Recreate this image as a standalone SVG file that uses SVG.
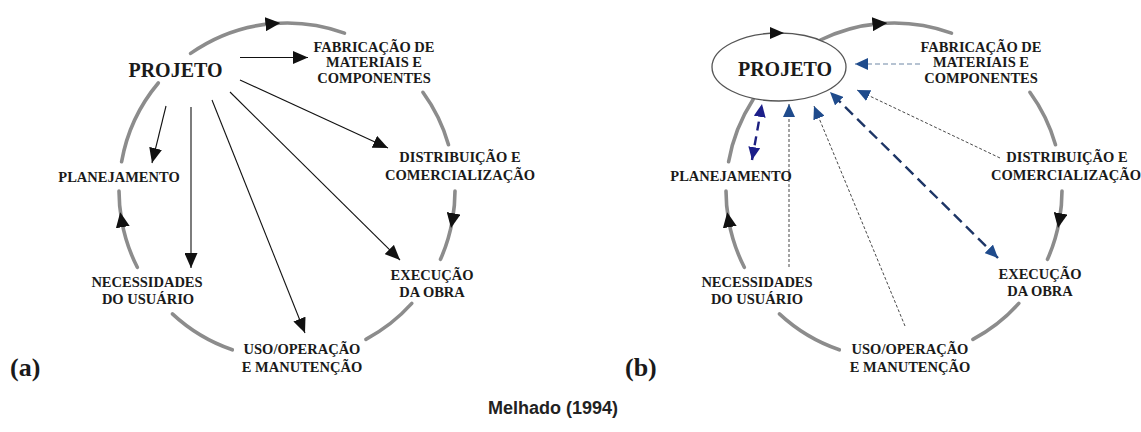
<svg xmlns="http://www.w3.org/2000/svg" width="1141" height="432" viewBox="0 0 1141 432">
  <style>
    .lbl { font-family: "Liberation Serif", "Times New Roman", serif; font-weight: bold; font-size: 14.5px; fill: #1a1a1a; text-anchor: middle; }
    .big { font-family: "Liberation Serif", "Times New Roman", serif; font-weight: bold; font-size: 20px; fill: #1a1a1a; text-anchor: middle; }
    .tag { font-family: "Liberation Serif", "Times New Roman", serif; font-weight: bold; font-size: 26px; fill: #1a1a1a; }
    .cite { font-family: "Liberation Sans", Arial, sans-serif; font-weight: bold; font-size: 18px; fill: #222; text-anchor: middle; }
    .cycle { fill: none; stroke: #8c8c8c; stroke-width: 3.6; stroke-linecap: round; }
    .flow { fill: none; stroke: #111; stroke-width: 1.1; }
    .thin { fill: none; stroke: #333; stroke-width: 0.9; stroke-dasharray: 3 2; }
    .pale { fill: none; stroke: #9fb0c4; stroke-width: 1.6; stroke-dasharray: 5 3; }
    .navy { fill: none; stroke: #1d3566; stroke-width: 2.4; stroke-dasharray: 11 6; }
    .indigo { fill: none; stroke: #1c1f80; stroke-width: 2.4; stroke-dasharray: 9 6; }
  </style>
  <defs>
    <marker id="cycleHead" markerUnits="userSpaceOnUse" markerWidth="15" markerHeight="14" refX="7" refY="7" orient="auto">
      <path d="M0,0 L15,7 L0,14 z" fill="#111"/>
    </marker>
    <marker id="blackHead" markerUnits="userSpaceOnUse" markerWidth="15" markerHeight="13" refX="15" refY="6.5" orient="auto">
      <path d="M0,0 L15,6.5 L0,13 z" fill="#111"/>
    </marker>
    <marker id="blueHead" markerUnits="userSpaceOnUse" markerWidth="13" markerHeight="12" refX="13" refY="6" orient="auto-start-reverse">
      <path d="M0,0 L13,6 L0,12 z" fill="#1f4b8c"/>
    </marker>
    <marker id="indigoHead" markerUnits="userSpaceOnUse" markerWidth="13" markerHeight="12" refX="13" refY="6" orient="auto-start-reverse">
      <path d="M0,0 L13,6 L0,12 z" fill="#1c1f8a"/>
    </marker>
  </defs>

  <!-- ===== (a) cycle ring, clockwise; arrow-bearing pieces drawn last ===== -->
  <g id="ring-a">
    <path class="cycle" d="M272.4,23.6 A168,168 0 0 1 344.5,33.1"/>
    <path class="cycle" d="M190.6,53.4 A168,168 0 0 1 272.4,23.6" marker-end="url(#cycleHead)"/>
    <path class="cycle" d="M422.9,92.3 A168,168 0 0 1 448.5,144.7"/>
    <path class="cycle" d="M452.4,220.2 A168,168 0 0 1 440.5,259.3"/>
    <path class="cycle" d="M455,191 A168,168 0 0 1 452.4,220.2" marker-end="url(#cycleHead)"/>
    <path class="cycle" d="M411.8,303.4 A168,168 0 0 1 365.9,339.3"/>
    <path class="cycle" d="M232.3,349.8 A168,168 0 0 1 172.4,313.9"/>
    <path class="cycle" d="M121.6,220.2 A168,168 0 0 1 119,191"/>
    <path class="cycle" d="M137.3,267.3 A168,168 0 0 1 121.6,220.2" marker-end="url(#cycleHead)"/>
    <path class="cycle" d="M121.6,161.8 A168,168 0 0 1 158.3,83.0"/>
  </g>

  <!-- (a) arrows from PROJETO to each stage -->
  <g id="connectors-a">
    <line class="flow" x1="240" y1="57.5" x2="308" y2="57.5" stroke-width="1.6" marker-end="url(#blackHead)"/>
    <line class="flow" x1="166" y1="106" x2="152" y2="163" marker-end="url(#blackHead)"/>
    <line class="flow" x1="191" y1="107" x2="191" y2="268" marker-end="url(#blackHead)"/>
    <line class="flow" x1="212" y1="100" x2="305" y2="333" marker-end="url(#blackHead)"/>
    <line class="flow" x1="230" y1="92" x2="400" y2="260" marker-end="url(#blackHead)"/>
    <line class="flow" x1="240" y1="80" x2="388" y2="148" marker-end="url(#blackHead)"/>
  </g>

  <g id="a-projeto"><text class="big" x="175.5" y="77">PROJETO</text></g>
  <g id="a-fabricacao">
    <text class="lbl" x="374" y="52">FABRICAÇÃO DE</text>
    <text class="lbl" x="374" y="67">MATERIAIS E</text>
    <text class="lbl" x="374" y="83">COMPONENTES</text>
  </g>
  <g id="a-distribuicao">
    <text class="lbl" x="460" y="162">DISTRIBUIÇÃO E</text>
    <text class="lbl" x="460" y="180">COMERCIALIZAÇÃO</text>
  </g>
  <g id="a-execucao">
    <text class="lbl" x="432" y="280">EXECUÇÃO</text>
    <text class="lbl" x="432" y="297">DA OBRA</text>
  </g>
  <g id="a-uso">
    <text class="lbl" x="302" y="354">USO/OPERAÇÃO</text>
    <text class="lbl" x="302" y="372">E MANUTENÇÃO</text>
  </g>
  <g id="a-necessidades">
    <text class="lbl" x="147" y="287">NECESSIDADES</text>
    <text class="lbl" x="148" y="304">DO USUÁRIO</text>
  </g>
  <g id="a-planejamento"><text class="lbl" x="119" y="182">PLANEJAMENTO</text></g>
  <g id="a-tag"><text class="tag" x="10" y="376">(a)</text></g>

  <!-- ===== (b) cycle ring, clockwise ===== -->
  <g id="ring-b">
    <path class="cycle" d="M879.4,23.6 A168,168 0 0 1 951.5,33.1"/>
    <path class="cycle" d="M820.4,40.0 A168,168 0 0 1 879.4,23.6" marker-end="url(#cycleHead)"/>
    <path class="cycle" d="M1029.9,92.3 A168,168 0 0 1 1055.5,144.7"/>
    <path class="cycle" d="M1059.4,220.2 A168,168 0 0 1 1047.5,259.3"/>
    <path class="cycle" d="M1062,191 A168,168 0 0 1 1059.4,220.2" marker-end="url(#cycleHead)"/>
    <path class="cycle" d="M1018.8,303.4 A168,168 0 0 1 972.9,339.3"/>
    <path class="cycle" d="M839.3,349.8 A168,168 0 0 1 779.4,313.9"/>
    <path class="cycle" d="M728.6,220.2 A168,168 0 0 1 726,191"/>
    <path class="cycle" d="M744.3,267.3 A168,168 0 0 1 728.6,220.2" marker-end="url(#cycleHead)"/>
    <path class="cycle" d="M728.6,161.8 A168,168 0 0 1 753.1,99.5"/>
  </g>

  <g id="b-projeto">
    <ellipse cx="779" cy="67" rx="67" ry="34" fill="#fff" stroke="#555" stroke-width="1.3"/>
    <path d="M770,27 L784,33 L770,39 z" fill="#111"/>
    <text class="big" x="785" y="76">PROJETO</text>
  </g>

  <!-- (b) feedback from each stage to PROJETO -->
  <g id="connectors-b">
    <line class="pale" x1="920" y1="64" x2="855" y2="64" marker-end="url(#blueHead)"/>
    <line class="thin" x1="1000" y1="158" x2="857" y2="90" marker-end="url(#blueHead)"/>
    <line class="navy" x1="998" y1="258" x2="830" y2="92" marker-start="url(#blueHead)" marker-end="url(#blueHead)"/>
    <line class="thin" x1="905" y1="326" x2="814" y2="106" marker-end="url(#blueHead)"/>
    <line class="thin" x1="789" y1="267" x2="789" y2="104" marker-end="url(#blueHead)"/>
    <line class="indigo" x1="752" y1="160" x2="762" y2="104" marker-start="url(#indigoHead)" marker-end="url(#indigoHead)"/>
  </g>

  <g id="b-fabricacao">
    <text class="lbl" x="981" y="52">FABRICAÇÃO DE</text>
    <text class="lbl" x="981" y="67">MATERIAIS E</text>
    <text class="lbl" x="981" y="83">COMPONENTES</text>
  </g>
  <g id="b-distribuicao">
    <text class="lbl" x="1067" y="162">DISTRIBUIÇÃO E</text>
    <text class="lbl" x="1066" y="180">COMERCIALIZAÇÃO</text>
  </g>
  <g id="b-execucao">
    <text class="lbl" x="1040" y="279">EXECUÇÃO</text>
    <text class="lbl" x="1040" y="296">DA OBRA</text>
  </g>
  <g id="b-uso">
    <text class="lbl" x="910" y="354">USO/OPERAÇÃO</text>
    <text class="lbl" x="910" y="372">E MANUTENÇÃO</text>
  </g>
  <g id="b-necessidades">
    <text class="lbl" x="757" y="287">NECESSIDADES</text>
    <text class="lbl" x="757" y="304">DO USUÁRIO</text>
  </g>
  <g id="b-planejamento"><text class="lbl" x="731" y="181">PLANEJAMENTO</text></g>
  <g id="b-tag"><text class="tag" x="625" y="376">(b)</text></g>

  <g id="source"><text class="cite" x="553" y="414">Melhado (1994)</text></g>
</svg>
